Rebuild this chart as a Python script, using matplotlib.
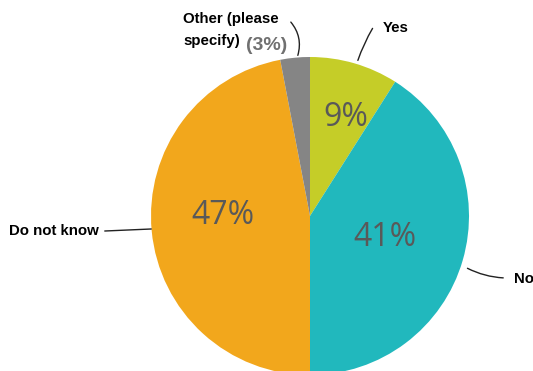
import numpy as np
import matplotlib
matplotlib.use("Agg")
import matplotlib.pyplot as plt

categories = ["Yes", "No", "Do not know", "Other (please specify)"]
values = [9, 41, 47, 3]
colors = ["#c5cd28", "#21b8bd", "#f2a71c", "#858585"]

W, H = 533, 371
fig = plt.figure(figsize=(W / 100, H / 100), dpi=100)
ax = fig.add_axes([0, 0, 1, 1])


def py(y):
    """Convert a top-down pixel row to axes y."""
    return H - y


cx, cy, R = 310, py(216), 159
wedges, _ = ax.pie(values, colors=colors, startangle=90, counterclock=False,
                   center=(cx, cy), radius=R, frame=True,
                   wedgeprops=dict(linewidth=0))
ax.set_xlim(0, W)
ax.set_ylim(0, H)
ax.set_aspect("equal")
ax.axis("off")

# percentage labels inside the three large slices
total = sum(values)
radial = [0.66, 0.49, 0.55]
shift = [-4, 0, -6]
start = 0.0
for i, v in enumerate(values):
    mid = start + v / 2
    start += v
    if i >= 3:
        continue
    ang = np.deg2rad(90 - 360 * mid / total + shift[i])
    x = cx + radial[i] * R * np.cos(ang)
    y = cy + radial[i] * R * np.sin(ang)
    ax.text(x, y, f"{v}%", ha="center", va="center", fontsize=23,
            color="#595959", family="Open Sans")

lab = dict(fontsize=10.8, fontweight="bold", color="black",
           family="Liberation Sans")
line = dict(arrowstyle="-", lw=1, color="#222222")

# outer category labels with leader lines
ax.text(383, py(28), categories[0], ha="left", va="center", **lab)
ax.annotate("", xy=(357, py(63)), xytext=(374, py(26)),
            arrowprops=dict(connectionstyle="arc3,rad=0.06", **line))

ax.text(514, py(279), categories[1], ha="left", va="center", **lab)
ax.annotate("", xy=(465, py(267)), xytext=(506, py(278)),
            arrowprops=dict(connectionstyle="arc3,rad=-0.12", **line))

ax.text(9, py(231), categories[2], ha="left", va="center", **lab)
ax.plot([105, 151], [py(231), py(229)], color="#222222", lw=1)

first, second = categories[3].split(" specify")
ax.text(183, py(19), first, ha="left", va="center", **lab)
ax.text(183, py(41), "specify" + second, ha="left", va="center", **lab)
ax.text(246, py(45), f"({values[3]}%)", ha="left", va="center",
        fontsize=14, fontweight="bold", color="#707070",
        family="Liberation Sans")
ax.annotate("", xy=(297, py(58)), xytext=(289, py(20)),
            arrowprops=dict(connectionstyle="arc3,rad=-0.3", **line))

fig.savefig("out.png", dpi=100, facecolor="white")
